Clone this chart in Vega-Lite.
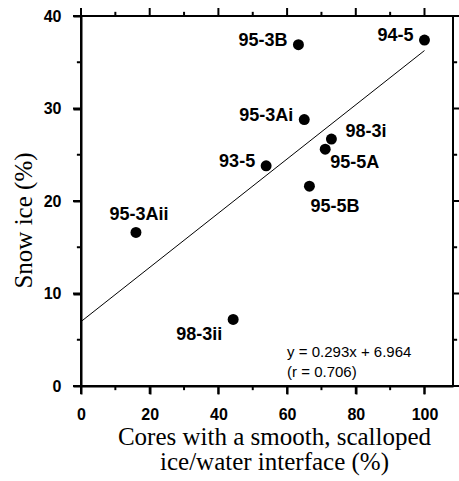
{
  "$schema": "https://vega.github.io/schema/vega-lite/v6.json",
  "width": 372,
  "height": 370,
  "autosize": "none",
  "padding": {"left": 81, "top": 16, "right": 6, "bottom": 95},
  "background": "white",
  "config": {"view": {"stroke": "black", "strokeWidth": 2}},
  "datasets": {
    "cores": [
      {"id": "94-5", "smooth": 100.0, "snow": 37.4},
      {"id": "95-3B", "smooth": 63.3, "snow": 36.9},
      {"id": "95-3Ai", "smooth": 65.0, "snow": 28.8},
      {"id": "98-3i", "smooth": 72.9, "snow": 26.7},
      {"id": "95-5A", "smooth": 71.1, "snow": 25.6},
      {"id": "93-5", "smooth": 53.9, "snow": 23.8},
      {"id": "95-5B", "smooth": 66.5, "snow": 21.6},
      {"id": "95-3Aii", "smooth": 16.0, "snow": 16.6},
      {"id": "98-3ii", "smooth": 44.3, "snow": 7.2}
    ],
    "fit": [
      {"smooth": 0, "snow": 6.964},
      {"smooth": 100, "snow": 36.264}
    ],
    "xMajor": [{"v": 0}, {"v": 20}, {"v": 40}, {"v": 60}, {"v": 80}, {"v": 100}],
    "xMinor": [{"v": 10}, {"v": 30}, {"v": 50}, {"v": 70}, {"v": 90}],
    "yMajor": [{"v": 0}, {"v": 10}, {"v": 20}, {"v": 30}, {"v": 40}],
    "yMinor": [{"v": 5}, {"v": 15}, {"v": 25}, {"v": 35}]
  },
  "layer": [
    {
      "data": {"name": "cores"},
      "mark": {"type": "circle", "color": "black", "opacity": 1, "size": 120},
      "encoding": {
        "x": {
          "field": "smooth", "type": "quantitative",
          "scale": {"domain": [0, 108.3], "nice": false, "zero": false},
          "axis": {
            "orient": "bottom",
            "values": [0, 20, 40, 60, 80, 100],
            "grid": false,
            "domain": true, "domainColor": "black", "domainWidth": 2,
            "ticks": true, "tickColor": "black", "tickWidth": 2, "tickSize": 8,
            "labelFont": "Liberation Sans", "labelFontSize": 16, "labelFontWeight": "bold",
            "labelColor": "black", "labelFlush": false, "labelPadding": 12,
            "title": ["Cores with a smooth, scalloped", "ice/water interface (%)"],
            "titleFont": "Liberation Serif", "titleFontSize": 25, "titleFontWeight": "normal",
            "titleColor": "black",
            "titleLineHeight": 25,
            "titleAnchor": "middle",
            "titleAlign": "center",
            "titleBaseline": "alphabetic",
            "titleX": 193,
            "titleY": 58
          }
        },
        "y": {
          "field": "snow", "type": "quantitative",
          "scale": {"domain": [0, 40], "nice": false, "zero": false},
          "axis": {
            "orient": "left",
            "values": [0, 10, 20, 30, 40],
            "grid": false,
            "domain": true, "domainColor": "black", "domainWidth": 2,
            "ticks": true, "tickColor": "black", "tickWidth": 2, "tickSize": 8,
            "labelFont": "Liberation Sans", "labelFontSize": 16, "labelFontWeight": "bold",
            "labelColor": "black", "labelPadding": 12,
            "title": "Snow ice (%)",
            "titleFont": "Liberation Serif", "titleFontSize": 25, "titleFontWeight": "normal",
            "titleColor": "black",
            "titleAngle": -90,
            "titleAlign": "center",
            "titleBaseline": "middle",
            "titleX": -58,
            "titleY": 204
          }
        }
      }
    },
    {
      "data": {"name": "fit"},
      "mark": {"type": "line", "color": "black", "strokeWidth": 1},
      "encoding": {
        "x": {"field": "smooth", "type": "quantitative", "scale": {"domain": [0, 108.3], "nice": false, "zero": false}},
        "y": {"field": "snow", "type": "quantitative", "scale": {"domain": [0, 40], "nice": false, "zero": false}}
      }
    },
    {
      "data": {"name": "xMajor"},
      "mark": {"type": "rule", "color": "black", "strokeWidth": 2},
      "encoding": {
        "x": {"field": "v", "type": "quantitative", "scale": {"domain": [0, 108.3], "nice": false, "zero": false}},
        "y": {"datum": 0, "type": "quantitative", "scale": {"domain": [0, 40], "nice": false, "zero": false}},
        "y2": {"datum": -0.865}
      }
    },
    {
      "data": {"name": "xMajor"},
      "mark": {"type": "rule", "color": "black", "strokeWidth": 2},
      "encoding": {
        "x": {"field": "v", "type": "quantitative", "scale": {"domain": [0, 108.3], "nice": false, "zero": false}},
        "y": {"datum": 40, "type": "quantitative", "scale": {"domain": [0, 40], "nice": false, "zero": false}},
        "y2": {"datum": 40.865}
      }
    },
    {
      "data": {"name": "xMinor"},
      "mark": {"type": "rule", "color": "black", "strokeWidth": 2},
      "encoding": {
        "x": {"field": "v", "type": "quantitative", "scale": {"domain": [0, 108.3], "nice": false, "zero": false}},
        "y": {"datum": 0, "type": "quantitative", "scale": {"domain": [0, 40], "nice": false, "zero": false}},
        "y2": {"datum": -0.45}
      }
    },
    {
      "data": {"name": "xMinor"},
      "mark": {"type": "rule", "color": "black", "strokeWidth": 2},
      "encoding": {
        "x": {"field": "v", "type": "quantitative", "scale": {"domain": [0, 108.3], "nice": false, "zero": false}},
        "y": {"datum": 40, "type": "quantitative", "scale": {"domain": [0, 40], "nice": false, "zero": false}},
        "y2": {"datum": 40.45}
      }
    },
    {
      "data": {"name": "yMajor"},
      "mark": {"type": "rule", "color": "black", "strokeWidth": 2},
      "encoding": {
        "y": {"field": "v", "type": "quantitative", "scale": {"domain": [0, 40], "nice": false, "zero": false}},
        "x": {"datum": 0, "type": "quantitative", "scale": {"domain": [0, 108.3], "nice": false, "zero": false}},
        "x2": {"datum": -2.33}
      }
    },
    {
      "data": {"name": "yMajor"},
      "mark": {"type": "rule", "color": "black", "strokeWidth": 2},
      "encoding": {
        "y": {"field": "v", "type": "quantitative", "scale": {"domain": [0, 40], "nice": false, "zero": false}},
        "x": {"datum": 108.3, "type": "quantitative", "scale": {"domain": [0, 108.3], "nice": false, "zero": false}},
        "x2": {"datum": 110.63}
      }
    },
    {
      "data": {"name": "yMinor"},
      "mark": {"type": "rule", "color": "black", "strokeWidth": 2},
      "encoding": {
        "y": {"field": "v", "type": "quantitative", "scale": {"domain": [0, 40], "nice": false, "zero": false}},
        "x": {"datum": 0, "type": "quantitative", "scale": {"domain": [0, 108.3], "nice": false, "zero": false}},
        "x2": {"datum": -1.2}
      }
    },
    {
      "data": {"name": "yMinor"},
      "mark": {"type": "rule", "color": "black", "strokeWidth": 2},
      "encoding": {
        "y": {"field": "v", "type": "quantitative", "scale": {"domain": [0, 40], "nice": false, "zero": false}},
        "x": {"datum": 108.3, "type": "quantitative", "scale": {"domain": [0, 108.3], "nice": false, "zero": false}},
        "x2": {"datum": 109.5}
      }
    },
    {
      "data": {"name": "cores"},
      "transform": [{"filter": {"field": "id", "oneOf": ["94-5", "95-3B", "95-3Ai", "93-5"]}}],
      "mark": {"type": "text", "font": "Liberation Sans", "align": "right", "baseline": "middle", "dx": -11, "dy": -4, "fontSize": 18, "fontWeight": "bold", "color": "black"},
      "encoding": {
        "x": {"field": "smooth", "type": "quantitative", "scale": {"domain": [0, 108.3], "nice": false, "zero": false}},
        "y": {"field": "snow", "type": "quantitative", "scale": {"domain": [0, 40], "nice": false, "zero": false}},
        "text": {"field": "id"}
      }
    },
    {
      "data": {"name": "cores"},
      "transform": [{"filter": {"field": "id", "equal": "98-3i"}}],
      "mark": {"type": "text", "font": "Liberation Sans", "align": "left", "baseline": "middle", "dx": 14, "dy": -7, "fontSize": 18, "fontWeight": "bold", "color": "black"},
      "encoding": {
        "x": {"field": "smooth", "type": "quantitative", "scale": {"domain": [0, 108.3], "nice": false, "zero": false}},
        "y": {"field": "snow", "type": "quantitative", "scale": {"domain": [0, 40], "nice": false, "zero": false}},
        "text": {"field": "id"}
      }
    },
    {
      "data": {"name": "cores"},
      "transform": [{"filter": {"field": "id", "equal": "95-5A"}}],
      "mark": {"type": "text", "font": "Liberation Sans", "align": "left", "baseline": "middle", "dx": 5, "dy": 14, "fontSize": 18, "fontWeight": "bold", "color": "black"},
      "encoding": {
        "x": {"field": "smooth", "type": "quantitative", "scale": {"domain": [0, 108.3], "nice": false, "zero": false}},
        "y": {"field": "snow", "type": "quantitative", "scale": {"domain": [0, 40], "nice": false, "zero": false}},
        "text": {"field": "id"}
      }
    },
    {
      "data": {"name": "cores"},
      "transform": [{"filter": {"field": "id", "equal": "95-5B"}}],
      "mark": {"type": "text", "font": "Liberation Sans", "align": "left", "baseline": "middle", "dx": 1, "dy": 21, "fontSize": 18, "fontWeight": "bold", "color": "black"},
      "encoding": {
        "x": {"field": "smooth", "type": "quantitative", "scale": {"domain": [0, 108.3], "nice": false, "zero": false}},
        "y": {"field": "snow", "type": "quantitative", "scale": {"domain": [0, 40], "nice": false, "zero": false}},
        "text": {"field": "id"}
      }
    },
    {
      "data": {"name": "cores"},
      "transform": [{"filter": {"field": "id", "equal": "98-3ii"}}],
      "mark": {"type": "text", "font": "Liberation Sans", "align": "right", "baseline": "middle", "dx": -11, "dy": 16, "fontSize": 18, "fontWeight": "bold", "color": "black"},
      "encoding": {
        "x": {"field": "smooth", "type": "quantitative", "scale": {"domain": [0, 108.3], "nice": false, "zero": false}},
        "y": {"field": "snow", "type": "quantitative", "scale": {"domain": [0, 40], "nice": false, "zero": false}},
        "text": {"field": "id"}
      }
    },
    {
      "data": {"name": "cores"},
      "transform": [{"filter": {"field": "id", "equal": "95-3Aii"}}],
      "mark": {"type": "text", "font": "Liberation Sans", "align": "center", "baseline": "middle", "dx": 3, "dy": -17, "fontSize": 18, "fontWeight": "bold", "color": "black"},
      "encoding": {
        "x": {"field": "smooth", "type": "quantitative", "scale": {"domain": [0, 108.3], "nice": false, "zero": false}},
        "y": {"field": "snow", "type": "quantitative", "scale": {"domain": [0, 40], "nice": false, "zero": false}},
        "text": {"field": "id"}
      }
    },
    {
      "data": {"values": [{}]},
      "mark": {"type": "text", "font": "Liberation Sans", "align": "left", "baseline": "middle", "fontSize": 15, "lineHeight": 20, "color": "black",
               "text": ["y = 0.293x + 6.964", "(r = 0.706)"]},
      "encoding": {
        "x": {"datum": 60, "type": "quantitative", "scale": {"domain": [0, 108.3], "nice": false, "zero": false}},
        "y": {"datum": 3.7, "type": "quantitative", "scale": {"domain": [0, 40], "nice": false, "zero": false}}
      }
    }
  ]
}
